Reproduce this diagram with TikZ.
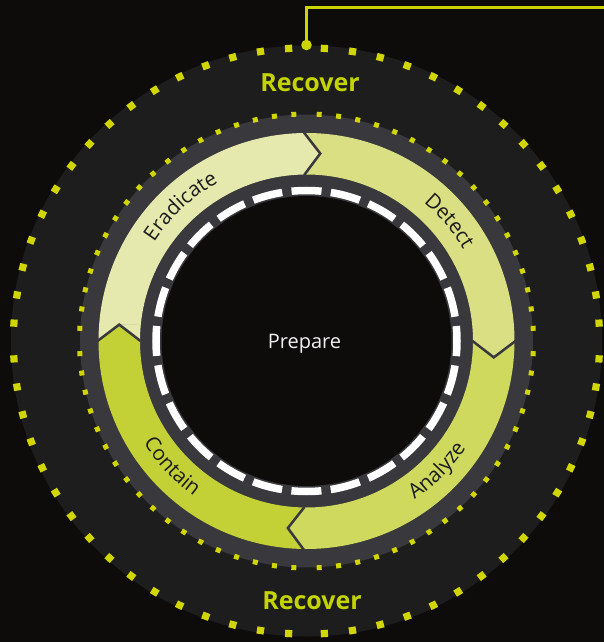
\documentclass[tikz,border=0pt]{standalone}
\usepackage{fontspec}
\setmainfont{Open Sans}
\usetikzlibrary{decorations.text}
\definecolor{bg}{HTML}{0E0B0B}
\definecolor{disc}{HTML}{1C1D1C}
\definecolor{ringgrey}{HTML}{38383D}
\definecolor{dotyel}{HTML}{D2D600}
\definecolor{recov}{HTML}{C4D400}
\definecolor{linkyel}{HTML}{CBD600}
\definecolor{segA}{HTML}{E6E9AE}
\definecolor{segB}{HTML}{DADF84}
\definecolor{segC}{HTML}{CED95E}
\definecolor{segD}{HTML}{C3D136}
\definecolor{labcol}{HTML}{1B1B1B}
\newcommand\labfont{\fontsize{20.5}{24}\selectfont}
\tikzset{
  recoverlabel/.style={font=\bfseries\fontsize{25}{28}\selectfont, text=recov, anchor=base, inner sep=0pt},
  arclabel/.style={decorate, decoration={text along path, text={|\labfont|#1}, text align=center, text color=labcol}},
  chevron/.style={ringgrey, line width=2.5pt, line join=miter},
}
\begin{document}
\begin{tikzpicture}[x=1pt,y=1pt]
\useasboundingbox[fill=bg] (-306.5,-301) rectangle (297.5,341);
% outer dark disc
\fill[disc] (0,0) circle[radius=295.5pt];
% outer dotted ring
\foreach \q in {0,90,180,270}{
  \foreach \k in {0,...,15}{
    \fill[dotyel, rotate={\q+3.5+\k*5.5333}] (289.5pt,-3.6pt) rectangle (296.7pt,3.6pt);
  }
}
% grey ring
\fill[ringgrey] (0,0) circle[radius=226.5pt];
% inner dotted ring
\foreach \q in {0,90,180,270}{
  \foreach \k in {0,...,17}{
    \fill[dotyel, rotate={\q+3.2+\k*4.9176}] (224.5pt,-2.5pt) rectangle (229.5pt,2.5pt);
  }
}
% green segments
\foreach \a/\b/\c in {180/90.8/segA, 90.8/0/segB, 0/-90.7/segC, -90.7/-180/segD}{
  \fill[\c] (\a:208pt) arc[start angle=\a, end angle=\b, radius=208pt]
    -- ({\b-5}:188pt) -- (\b:166.5pt)
    arc[start angle=\b, end angle=\a, radius=166.5pt]
    -- ({\a-5}:188pt) -- cycle;
}
\draw[segA!82!gray, line width=0.6pt] (175:188pt) -- (174.2:167pt);
\foreach \b in {90.8,0,-90.7,180}{
  \draw[chevron] (\b:209pt) -- ({\b-5}:188pt) -- (\b:166pt);
}
% black centre and dashed ring
\fill[bg] (0,0) circle[radius=145pt];
\draw[white, line width=7.5pt, dash pattern=on 30pt off 9.4pt, dash phase=15pt] (0,0) circle[radius=150.5pt];
% arc labels
\path[arclabel=Eradicate] (173:181.5pt) arc[start angle=173, end angle=93, radius=181.5pt];
\path[arclabel=Detect] (80:181.5pt) arc[start angle=80, end angle=0, radius=181.5pt];
\path[arclabel=Analyze] (-84.8:192pt) arc[start angle=-84.8, end angle=-4.8, radius=192pt];
\path[arclabel=Contain] (183:192pt) arc[start angle=183, end angle=263, radius=192pt];
% texts
\node[font=\fontsize{20}{24}\selectfont, text=white!94!black, anchor=base, inner sep=0pt] (prep) at (-2,-7.3) {Prepare};
\node[recoverlabel] (rectop) at (3.5,249) {Recover};
\node[recoverlabel] (recbot) at (5.5,-268) {Recover};
% connector
\coordinate (conn) at (0,296);
\coordinate (edge) at (300,333);
\draw[linkyel, line width=3pt] (conn) |- (edge);
\fill[linkyel] (conn) circle[radius=5.3pt];
\end{tikzpicture}
\end{document}
